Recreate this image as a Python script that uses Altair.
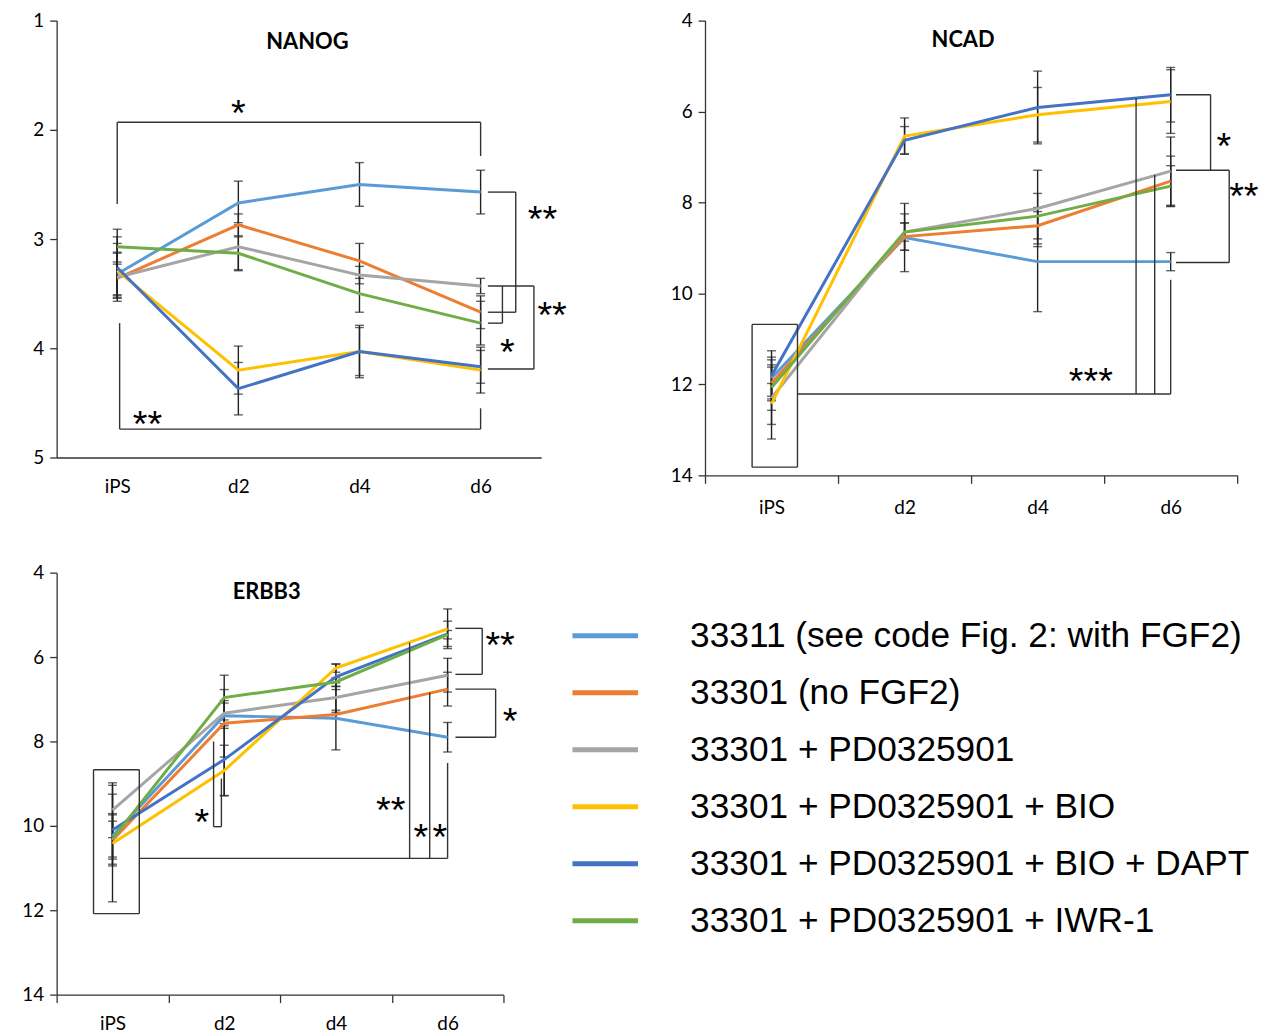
import altair as alt
import pandas as pd

# ---------------- data ----------------
SERIES = [
    "33311 (see code Fig. 2: with FGF2)",
    "33301 (no FGF2)",
    "33301 + PD0325901",
    "33301 + PD0325901 + BIO",
    "33301 + PD0325901 + BIO + DAPT",
    "33301 + PD0325901 + IWR-1",
]
COLORS = ["#5B9BD5", "#ED7D31", "#A5A5A5", "#FFC000", "#4472C4", "#70AD47"]
DAYS = ["iPS", "d2", "d4", "d6"]
POS = [0, 1, 2, 3]

# means per series (iPS, d2, d4, d6)
NANOG_MEAN = [
    [3.32, 2.67, 2.50, 2.57],
    [3.36, 2.87, 3.20, 3.67],
    [3.35, 3.07, 3.33, 3.43],
    [3.29, 4.20, 4.03, 4.20],
    [3.26, 4.37, 4.03, 4.17],
    [3.07, 3.13, 3.50, 3.77],
]
NANOG_ERR = [
    [0.20, 0.20, 0.20, 0.20],
    [0.15, 0.10, 0.16, 0.15],
    [0.22, 0.22, 0.08, 0.07],
    [0.25, 0.22, 0.24, 0.21],
    [0.28, 0.24, 0.22, 0.15],
    [0.16, 0.15, 0.17, 0.20],
]
NCAD_MEAN = [
    [11.86, 8.77, 9.30, 9.30],
    [11.97, 8.75, 8.51, 7.53],
    [12.30, 8.65, 8.13, 7.31],
    [12.43, 6.54, 6.07, 5.78],
    [11.81, 6.63, 5.91, 5.63],
    [12.07, 8.65, 8.30, 7.64],
]
NCAD_ERR = [
    [0.40, 0.75, 1.10, 0.20],
    [0.35, 0.30, 0.40, 0.55],
    [0.90, 0.40, 0.84, 0.75],
    [0.45, 0.40, 0.60, 0.70],
    [0.55, 0.30, 0.80, 0.60],
    [0.50, 0.20, 0.50, 0.45],
]
ERBB3_MEAN = [
    [10.24, 7.39, 7.45, 7.90],
    [10.34, 7.57, 7.36, 6.76],
    [9.63, 7.33, 6.96, 6.43],
    [10.42, 8.69, 6.26, 5.33],
    [10.10, 8.43, 6.47, 5.45],
    [10.31, 6.96, 6.59, 5.47],
]
ERBB3_ERR = [
    [0.50, 0.30, 0.75, 0.35],
    [0.45, 0.80, 0.10, 0.40],
    [0.65, 0.30, 0.35, 0.40],
    [1.38, 0.60, 0.10, 0.47],
    [0.85, 0.85, 0.30, 0.30],
    [0.60, 0.53, 0.10, 0.10],
]

# significance brackets: segments (x1, y1, x2, y2) in data units
NANOG_SEGS = [
    (0, 2.68, 0, 1.93), (0, 1.93, 3, 1.93), (3, 1.93, 3, 2.24),
    (0.02, 3.77, 0.02, 4.74), (0.02, 4.74, 3, 4.74), (3, 4.55, 3, 4.74),
    (3.06, 2.57, 3.29, 2.57), (3.29, 2.57, 3.29, 3.67), (3.29, 3.67, 3.06, 3.67),
    (3.06, 3.43, 3.44, 3.43), (3.18, 3.43, 3.18, 3.77), (3.18, 3.77, 3.06, 3.77),
    (3.44, 3.43, 3.44, 4.19), (3.44, 4.19, 3.06, 4.19),
]
NANOG_STARS = [(1.0, 1.79, "*"), (0.25, 4.64, "**"), (3.51, 2.76, "**"),
               (3.59, 3.64, "**"), (3.22, 3.98, "*")]

NCAD_SEGS = [
    (-0.146, 10.68, 0.195, 10.68), (0.195, 10.68, 0.195, 13.82),
    (0.195, 13.82, -0.146, 13.82), (-0.146, 13.82, -0.146, 10.68),
    (0.195, 12.21, 3.0, 12.21), (2.74, 5.70, 2.74, 12.21),
    (2.88, 7.39, 2.88, 12.21), (3.0, 9.70, 3.0, 12.21),
    (3.04, 5.63, 3.30, 5.63), (3.30, 5.63, 3.30, 7.29),
    (3.04, 7.29, 3.44, 7.29), (3.44, 7.29, 3.44, 9.32), (3.44, 9.32, 3.04, 9.32),
]
NCAD_STARS = [(2.4, 11.79, "***"), (3.40, 6.63, "*"), (3.55, 7.73, "**")]

ERBB3_SEGS = [
    (-0.17, 8.67, 0.24, 8.67), (0.24, 8.67, 0.24, 12.08),
    (0.24, 12.08, -0.17, 12.08), (-0.17, 12.08, -0.17, 8.67),
    (0.24, 10.77, 3.0, 10.77), (2.66, 5.66, 2.66, 10.77),
    (2.84, 6.84, 2.84, 10.77), (3.0, 8.51, 3.0, 10.77),
    (0.905, 8.0, 0.905, 10.02), (0.905, 10.02, 0.975, 10.02), (0.975, 8.88, 0.975, 10.02),
    (3.07, 5.32, 3.31, 5.32), (3.31, 5.32, 3.31, 6.41), (3.31, 6.41, 3.07, 6.41),
    (3.07, 6.76, 3.43, 6.76), (3.43, 6.76, 3.43, 7.90), (3.43, 7.90, 3.07, 7.90),
]
ERBB3_STARS = [(2.49, 9.49, "**"), (2.76, 10.12, "*"), (2.93, 10.12, "*"),
               (0.80, 9.76, "*"), (3.47, 5.57, "**"), (3.56, 7.37, "*")]

TITLES = {"NANOG": (1.57, 1.20), "NCAD": (1.44, 4.43), "ERBB3": (1.38, 4.47)}

LABEL_FONT = "Lato"
STAR_FONT = "Liberation Sans"
AX_COLOR = "#333333"

LEGEND = alt.Legend(
    title=None, orient="none", legendX=517, legendY=584,
    symbolType="stroke", symbolSize=4356, symbolStrokeWidth=5,
    labelFont="Liberation Sans", labelFontSize=35.5, labelColor="black",
    labelOffset=50, rowPadding=3.4, labelLimit=900,
)


def series_frame(means, errs):
    rows = []
    for s, m_row, e_row in zip(SERIES, means, errs):
        for p, d, m, e in zip(POS, DAYS, m_row, e_row):
            rows.append({"series": s, "pos": p, "day": d, "mean": m,
                         "lo": m - e, "hi": m + e})
    return pd.DataFrame(rows)


def panel(name, means, errs, segs, stars, ydomain, yvalues, w, h, xticks, lab_pad):
    df = series_frame(means, errs)
    seg_df = pd.DataFrame(segs, columns=["x1", "y1", "x2", "y2"])
    star_df = pd.DataFrame(stars, columns=["x", "y", "t"])
    tx, ty = TITLES[name]
    title_df = pd.DataFrame([{"x": tx, "y": ty, "t": name}])

    xs = alt.Scale(domain=[-0.5, 3.5], nice=False, zero=False)
    xband = alt.Scale(domain=DAYS, paddingInner=0, paddingOuter=0)
    ys = alt.Scale(domain=ydomain, reverse=True, nice=False, zero=False)

    if xticks:
        xaxis = alt.Axis(
            orient="bottom", title=None, grid=False, labelAngle=0,
            ticks=True, tickBand="extent", tickSize=8, labelPadding=lab_pad,
            labelFont=LABEL_FONT, labelFontSize=19, labelColor="black",
            domainColor=AX_COLOR, tickColor=AX_COLOR, domainWidth=1.3, tickWidth=1.3,
        )
    else:
        xaxis = alt.Axis(
            orient="bottom", title=None, grid=False, labelAngle=0,
            ticks=False, tickSize=0, labelPadding=lab_pad,
            labelFont=LABEL_FONT, labelFontSize=19, labelColor="black",
            domainColor=AX_COLOR, domainWidth=1.3,
        )
    yaxis = alt.Axis(
        orient="left", values=yvalues, title=None, grid=False, tickSize=7, labelPadding=6,
        labelFont=LABEL_FONT, labelFontSize=19, labelColor="black",
        domainColor=AX_COLOR, tickColor=AX_COLOR, domainWidth=1.3, tickWidth=1.3,
        minExtent=31,
    )

    base = alt.Chart(df)
    err_rule = base.mark_rule(color="#222222", strokeWidth=1.4).encode(
        x=alt.X("pos:Q", scale=xs, axis=None),
        y=alt.Y("lo:Q", scale=ys, axis=yaxis),
        y2="hi:Q",
    )
    cap_lo = base.mark_tick(orient="horizontal", size=9, thickness=1.4, color="#222222").encode(
        x=alt.X("pos:Q", scale=xs, axis=None),
        y=alt.Y("lo:Q", scale=ys, axis=yaxis),
    )
    cap_hi = base.mark_tick(orient="horizontal", size=9, thickness=1.4, color="#222222").encode(
        x=alt.X("pos:Q", scale=xs, axis=None),
        y=alt.Y("hi:Q", scale=ys, axis=yaxis),
    )
    lines = base.mark_line(strokeWidth=3).encode(
        x=alt.X("day:O", scale=xband, sort=DAYS, axis=xaxis),
        y=alt.Y("mean:Q", scale=ys, axis=yaxis),
        color=alt.Color("series:N", scale=alt.Scale(domain=SERIES, range=COLORS),
                        sort=SERIES, legend=LEGEND),
        order="pos:Q",
    )
    brackets = alt.Chart(seg_df).mark_rule(color="#333333", strokeWidth=1.4).encode(
        x=alt.X("x1:Q", scale=xs, axis=None),
        x2="x2:Q",
        y=alt.Y("y1:Q", scale=ys, axis=yaxis),
        y2="y2:Q",
    )
    star_text = alt.Chart(star_df).mark_text(
        font=STAR_FONT, fontSize=38, color="black", align="center", baseline="middle", dy=8
    ).encode(
        x=alt.X("x:Q", scale=xs, axis=None),
        y=alt.Y("y:Q", scale=ys, axis=yaxis),
        text="t:N",
    )
    title_text = alt.Chart(title_df).mark_text(
        font=LABEL_FONT, fontSize=22, fontWeight="bold", color="black",
        align="center", baseline="middle"
    ).encode(
        x=alt.X("x:Q", scale=xs, axis=None),
        y=alt.Y("y:Q", scale=ys, axis=yaxis),
        text="t:N",
    )
    return alt.layer(
        err_rule, cap_lo, cap_hi, lines, brackets, star_text, title_text
    ).resolve_scale(x="independent").resolve_axis(x="independent").properties(
        width=w, height=h
    )


nanog = panel("NANOG", NANOG_MEAN, NANOG_ERR, NANOG_SEGS, NANOG_STARS,
              [1, 5], [1, 2, 3, 4, 5], 488, 440, False, 20)
ncad = panel("NCAD", NCAD_MEAN, NCAD_ERR, NCAD_SEGS, NCAD_STARS,
             [4, 14], [4, 6, 8, 10, 12, 14], 536, 458, True, 15)
erbb3 = panel("ERBB3", ERBB3_MEAN, ERBB3_ERR, ERBB3_SEGS, ERBB3_STARS,
              [4, 14], [4, 6, 8, 10, 12, 14], 450, 425, True, 12)

chart = alt.vconcat(
    alt.hconcat(nanog, ncad, spacing=103),
    erbb3,
    spacing=47,
).properties(
    padding={"left": 13, "top": 0, "right": 5, "bottom": 5},
    background="white",
).configure_view(stroke=None)

chart.save("out.html", embed_options={"renderer": "svg", "actions": False})
